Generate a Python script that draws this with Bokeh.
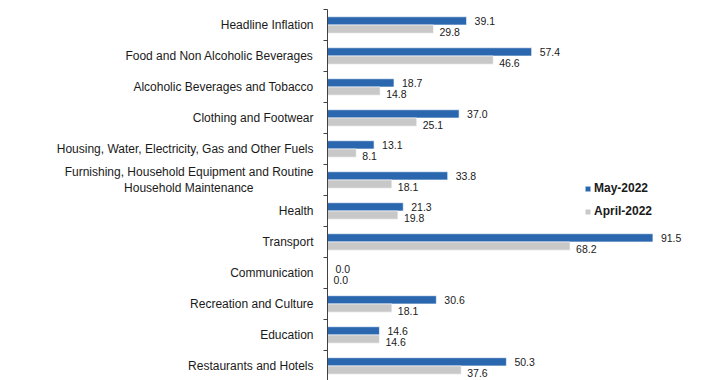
from bokeh.plotting import figure
from bokeh.models import Range1d, FixedTicker, ColumnDataSource, Legend, LegendItem
from bokeh.core.properties import value
from bokeh.embed import file_html
from bokeh.resources import INLINE

categories = [
    "Headline Inflation",
    "Food and Non Alcoholic Beverages",
    "Alcoholic Beverages and Tobacco",
    "Clothing and Footwear",
    "Housing, Water, Electricity, Gas and Other Fuels",
    "Furnishing, Household Equipment and Routine\nHousehold Maintenance" + "\u00a0" * 18,
    "Health",
    "Transport",
    "Communication",
    "Recreation and Culture",
    "Education",
    "Restaurants and Hotels",
]
may_2022 = [39.1, 57.4, 18.7, 37.0, 13.1, 33.8, 21.3, 91.5, 0.0, 30.6, 14.6, 50.3]
april_2022 = [29.8, 46.6, 14.8, 25.1, 8.1, 18.1, 19.8, 68.2, 0.0, 18.1, 14.6, 37.6]

BLUE = "#2B67AE"
GREY = "#C8C8C8"
FONT = "Liberation Sans"
TXT = "#1a1a1a"

idx = list(range(len(categories)))
bar_h = 0.265
src = ColumnDataSource(dict(
    y_may=[i - bar_h / 2 for i in idx],
    y_apr=[i + bar_h / 2 for i in idx],
    may=may_2022,
    apr=april_2022,
    may_txt=[f"{v:.1f}" for v in may_2022],
    apr_txt=[f"{v:.1f}" for v in april_2022],
))

p = figure(width=720, height=380, output_backend="svg", toolbar_location=None,
           x_range=Range1d(0, 110.5), y_range=Range1d(11.47, -0.5),
           min_border_left=327, min_border_right=0, min_border_top=9, min_border_bottom=0,
           outline_line_color=None)
p.xaxis.visible = False
p.grid.visible = False

yax = p.yaxis[0]
yax.ticker = FixedTicker(ticks=idx, minor_ticks=[i - 0.5 for i in range(len(idx) + 1)])
yax.major_label_overrides = {i: c for i, c in zip(idx, categories)}
yax.major_tick_out = 0
yax.major_tick_in = 0
yax.minor_tick_out = 4
yax.minor_tick_in = 0
yax.minor_tick_line_color = "#404040"
yax.axis_line_color = "#404040"
yax.major_label_standoff = 10
yax.major_label_text_font = FONT
yax.major_label_text_font_size = "12px"
yax.major_label_text_color = TXT
yax.major_label_text_line_height = 1.1

r1 = p.hbar(y="y_may", left=0, right="may", height=bar_h, source=src,
            fill_color=BLUE, line_color="white", line_width=0.6)
r2 = p.hbar(y="y_apr", left=0, right="apr", height=bar_h, source=src,
            fill_color=GREY, line_color="white", line_width=0.6)

p.text(x="may", y="y_may", text="may_txt", source=src, x_offset=8, y_offset=0,
       text_baseline="middle", text_align="left", text_font=value(FONT),
       text_font_size="10.5px", text_color=TXT)
p.text(x="apr", y="y_apr", text="apr_txt", source=src, x_offset=6, y_offset=3,
       text_baseline="middle", text_align="left", text_font=value(FONT),
       text_font_size="10.5px", text_color=TXT)

legend = Legend(items=[LegendItem(label="May-2022", renderers=[r1]),
                       LegendItem(label="April-2022", renderers=[r2])],
                location=(257, 159), orientation="vertical",
                glyph_width=7, glyph_height=7, label_standoff=3, spacing=3,
                label_height=20, padding=0, margin=0,
                border_line_color=None, background_fill_alpha=0,
                label_text_font=FONT, label_text_font_size="12px",
                label_text_font_style="bold", label_text_color=TXT)
p.add_layout(legend)

open("out.html", "w").write(file_html(p, INLINE))
